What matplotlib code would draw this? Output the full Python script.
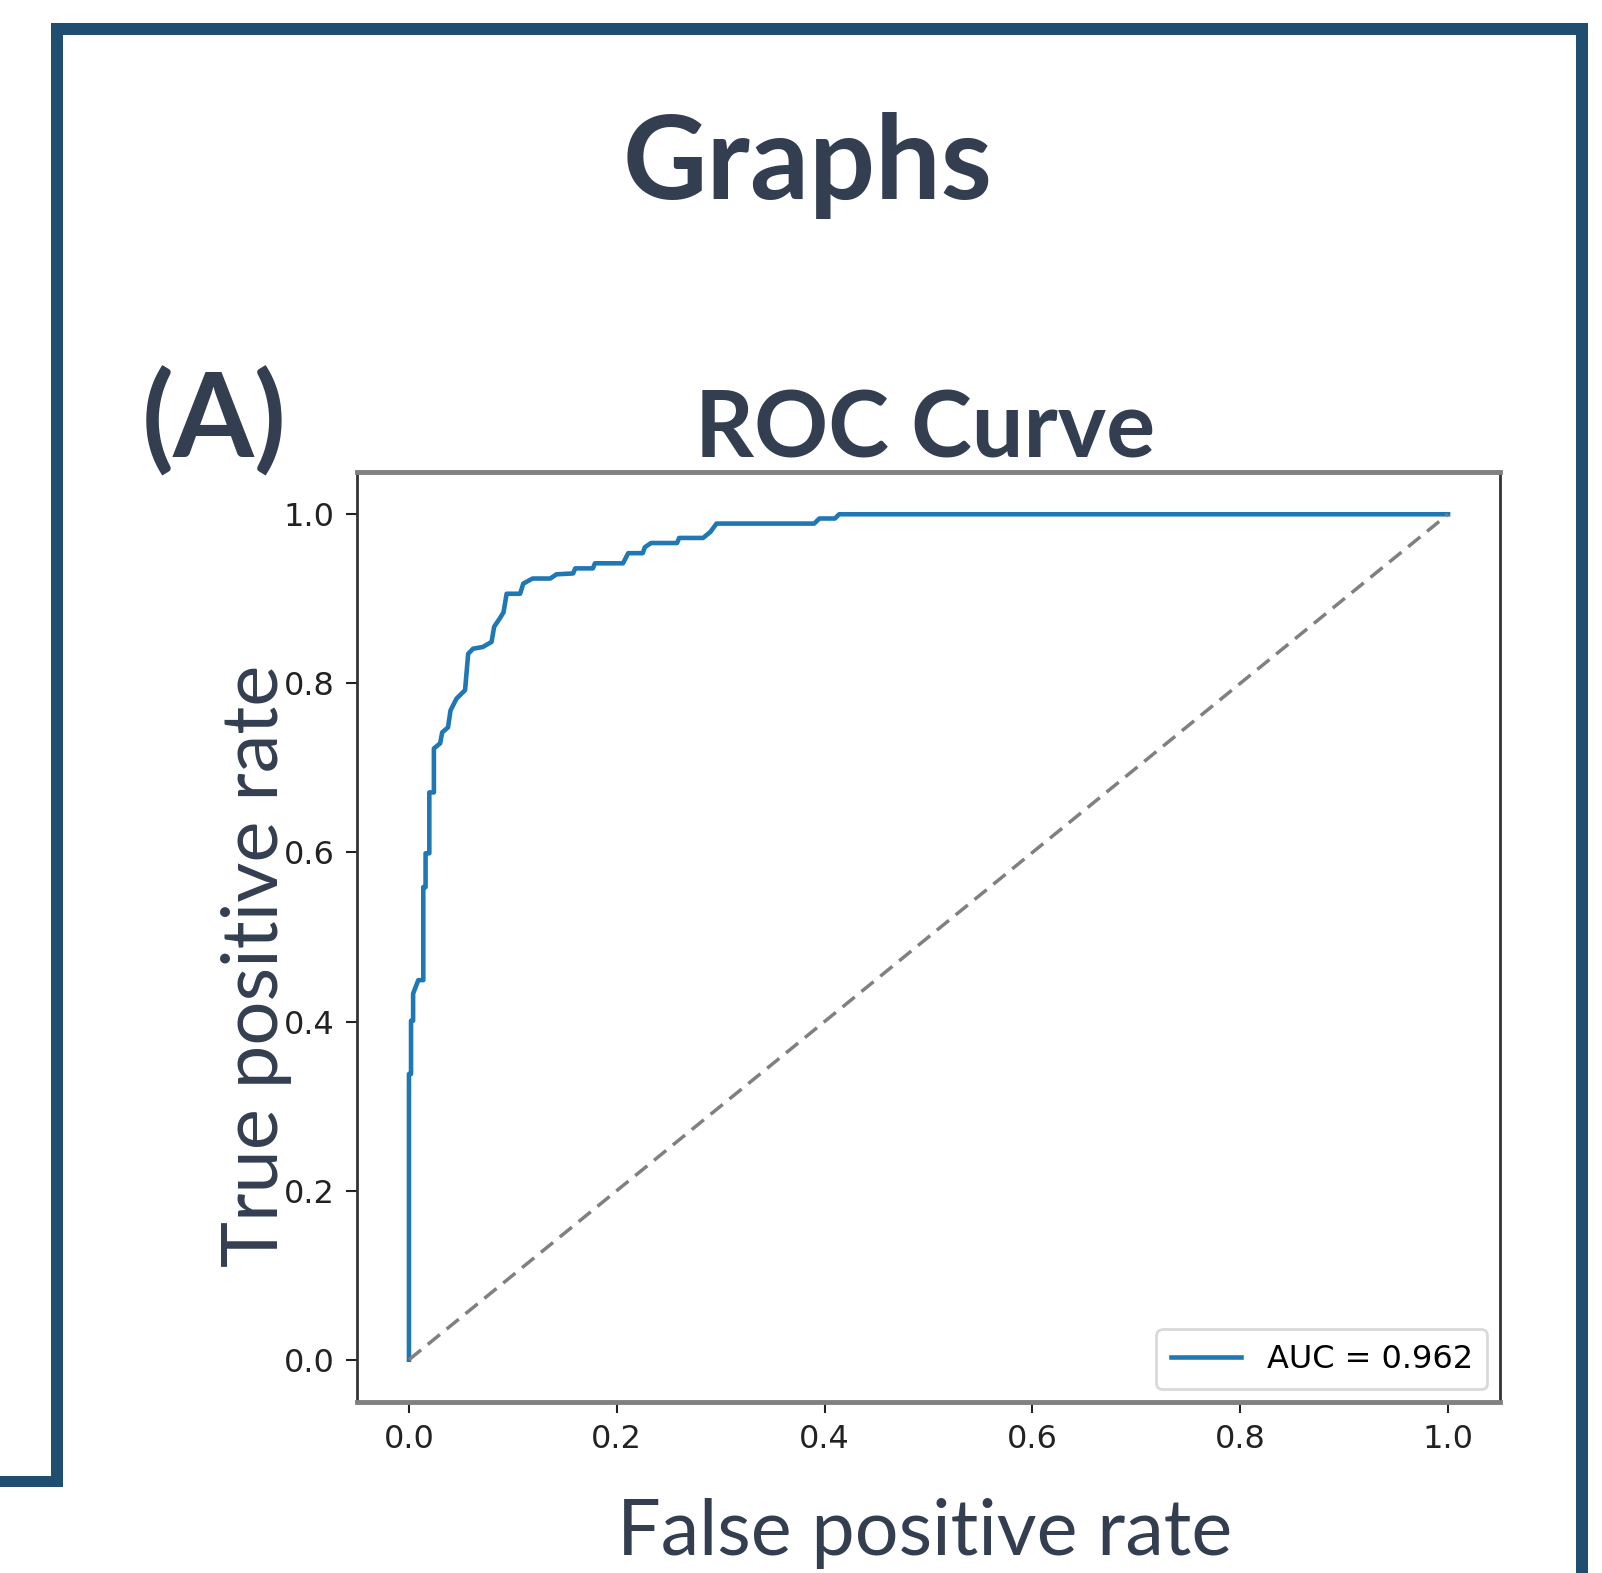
import numpy as np
import matplotlib.pyplot as plt
from matplotlib.patches import Rectangle

W, H = 1602, 1573

# ROC curve
fpr = [0.0, 0.0, 0.002, 0.002, 0.004, 0.004, 0.009, 0.0138, 0.0138, 0.016, 0.016,
       0.0196, 0.0196, 0.024, 0.024, 0.030, 0.032, 0.0376, 0.040, 0.0458, 0.054,
       0.057, 0.0617, 0.071, 0.0795, 0.082, 0.0875, 0.091, 0.094, 0.107, 0.110,
       0.119, 0.136, 0.142, 0.158, 0.160, 0.177, 0.179, 0.206, 0.211, 0.225,
       0.227, 0.233, 0.258, 0.260, 0.283, 0.290, 0.296, 0.390, 0.395, 0.410,
       0.414, 1.0]
tpr = [0.0, 0.338, 0.338, 0.401, 0.401, 0.433, 0.449, 0.449, 0.559, 0.559, 0.599,
       0.599, 0.671, 0.671, 0.723, 0.729, 0.742, 0.748, 0.768, 0.782, 0.792,
       0.835, 0.841, 0.843, 0.849, 0.867, 0.877, 0.884, 0.906, 0.906, 0.918,
       0.924, 0.924, 0.929, 0.930, 0.936, 0.936, 0.942, 0.942, 0.954, 0.954,
       0.961, 0.966, 0.966, 0.972, 0.972, 0.979, 0.989, 0.989, 0.995, 0.995,
       1.0, 1.0]
auc_label = 'AUC = 0.962'
ticks = [0.0, 0.2, 0.4, 0.6, 0.8, 1.0]
tick_labels = ['0.0', '0.2', '0.4', '0.6', '0.8', '1.0']

FRAME = '#204E70'
TXT = '#333F50'

fig = plt.figure(figsize=(W / 100, H / 100), dpi=100)

def box(x0, y0, x1, y1):
    fig.add_artist(Rectangle((x0 / W, 1 - y1 / H), (x1 - x0) / W, (y1 - y0) / H,
                             transform=fig.transFigure, color=FRAME, lw=0))

box(51, 23, 63, 1487)
box(51, 23, 1588, 35)
box(1576, 23, 1588, 1573)
box(0, 1476, 63, 1487)

ax = fig.add_axes([357 / W, 1 - 1402 / H, (1500 - 357) / W, (1402 - 472) / H])
ax.plot(fpr, tpr, color='#1f77b4', lw=3.3, label=auc_label)
ax.plot([0, 1], [0, 1], ls='--', color='#808080', lw=2.5, dashes=(4.5, 2.5))
ax.set_xlim(-0.05, 1.05)
ax.set_ylim(-0.05, 1.05)
ax.set_xticks(ticks)
ax.set_xticklabels(tick_labels)
ax.set_yticks(ticks)
ax.set_yticklabels(tick_labels)
ax.tick_params(labelsize=23, length=8, width=1.5, color='#222222',
               labelcolor='#222222', pad=8)
for s in ['top', 'bottom']:
    ax.spines[s].set_color('#808080')
    ax.spines[s].set_linewidth(3.5)
for s in ['left', 'right']:
    ax.spines[s].set_color('#333333')
    ax.spines[s].set_linewidth(2)
leg = ax.legend(loc='lower right', fontsize=23, handlelength=2.2,
                borderpad=0.45, borderaxespad=0.4, fancybox=True)
leg.get_frame().set_edgecolor('#d0d0d0')
leg.get_frame().set_linewidth(2)

fig.canvas.draw()
r = fig.canvas.get_renderer()

def put(s, cx, base, width, weight, rot=0):
    kw = dict(family='Lato', fontweight=weight, color=TXT, ha='center',
              va='baseline', rotation=rot, rotation_mode='anchor')
    if rot:
        t = fig.text(base / W, 1 - cx / H, s, fontsize=100, **kw)
        w = t.get_window_extent(r).height
    else:
        t = fig.text(cx / W, 1 - base / H, s, fontsize=100, **kw)
        w = t.get_window_extent(r).width
    t.set_fontsize(100 * width / w)

put('Graphs', 808, 199, 370, 'bold')
put('(A)', 214, 457, 145, 'bold')
put('ROC Curve', 925, 457, 460, 'bold')
put('False positive rate', 925, 1555, 615, 'normal')
put('True positive rate', 966, 278, 603, 'normal', rot=90)

fig.savefig('out.png', dpi=100)
